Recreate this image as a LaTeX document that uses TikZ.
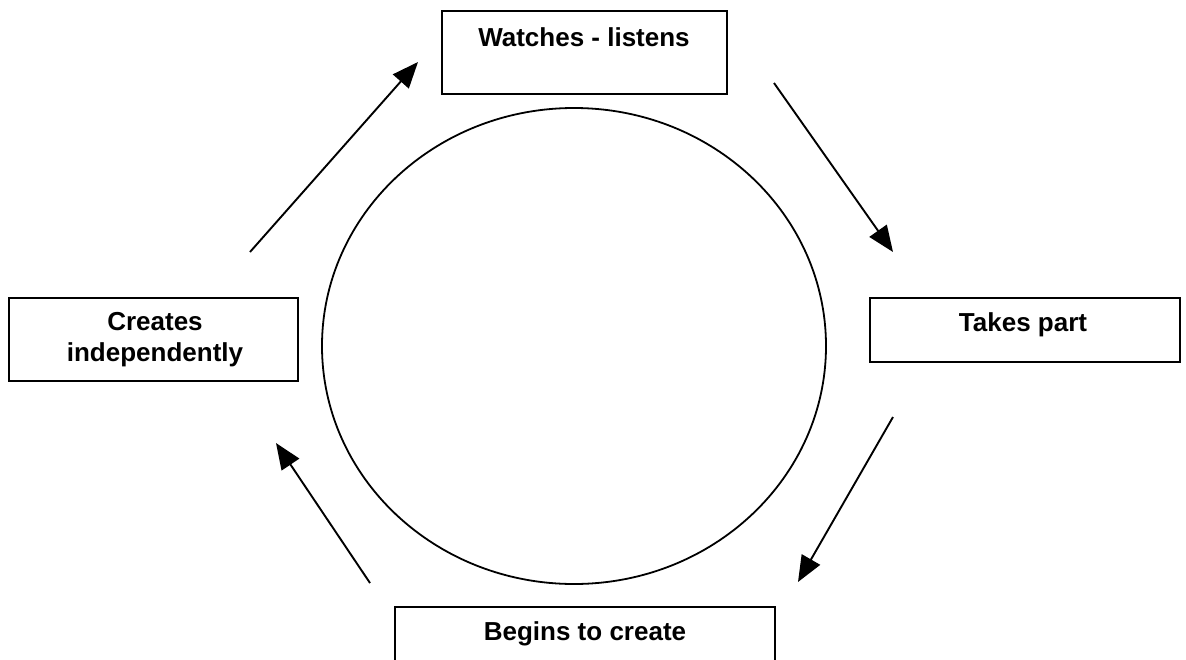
\documentclass[tikz,border=0pt]{standalone}
\usepackage{fontspec}
\setmainfont{Liberation Sans}
\usetikzlibrary{arrows.meta}
\begin{document}
\begin{tikzpicture}[x=1pt,y=-1pt,
  box/.style={draw, line width=1.5pt, rectangle, inner sep=0pt},
  lbl/.style={font=\fontsize{26}{31}\selectfont\bfseries, align=center, inner sep=0pt},
  flow/.style={line width=1.9pt, -{Triangle[length=26pt,width=21pt]}}]
  \useasboundingbox (0,0) rectangle (1186,659);
  % central ring
  \draw[line width=1.8pt] (574,346) ellipse [x radius=252, y radius=238];
  % stage boxes
  \draw[box] (442,11) rectangle (727,94);
  \node[lbl] (watch) at (584,37) {Watches - listens};
  \draw[box] (870,298) rectangle (1180,362);
  \node[lbl] (take) at (1023,325) {Takes part};
  \draw[box] (395,607) rectangle (775,670);
  \node[lbl] (begin) at (585,634) {Begins to create};
  \draw[box] (9,298) rectangle (298,381);
  \node[lbl] (indep) at (155,340) {Creates\\independently};
  % cycle arrows
  \coordinate (a1s) at (250,252); \coordinate (a1e) at (418,62);
  \coordinate (a2s) at (774,83);  \coordinate (a2e) at (893,252);
  \coordinate (a3s) at (893,417); \coordinate (a3e) at (798,582);
  \coordinate (a4s) at (370,583); \coordinate (a4e) at (276,443);
  \draw[flow] (a1s) -- (a1e);
  \draw[flow] (a2s) -- (a2e);
  \draw[flow] (a3s) -- (a3e);
  \draw[flow] (a4s) -- (a4e);
\end{tikzpicture}
\end{document}
